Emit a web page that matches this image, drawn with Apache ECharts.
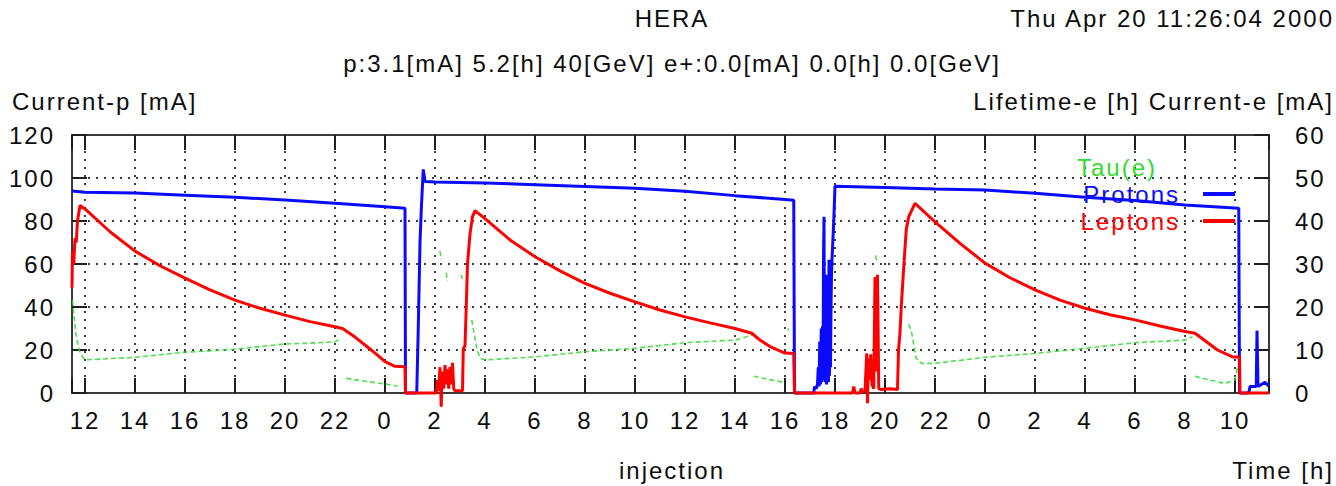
<!DOCTYPE html>
<html>
<head>
<meta charset="utf-8">
<title>HERA</title>
<script src="https://cdn.jsdelivr.net/npm/echarts@6/dist/echarts.min.js"></script>
<style>
  html, body { margin: 0; padding: 0; background: #ffffff; }
  #chart { width: 1336px; height: 486px; }
  /* wide, evenly spaced lettering of the plot's screen font */
  #chart text { letter-spacing: 2px; }
</style>
</head>
<body>
<div id="chart"></div>
<script>
// Time is counted in hours from midnight of the first day (12 = noon day 1, 24 = midnight, 48 = second midnight).
const timeStart = 11.48;
const timeEnd = 59.36;

// Proton beam current [mA]
const protonHours = [
  11.48, 12, 14, 16, 18, 20, 22, 24, 24.8, 24.82,
  25.27, 25.33, 25.4, 25.45, 25.53, 25.6, 26, 28, 30, 32, 34, 36, 38, 40, 40.35, 40.38,
  41.15, 41.18, 41.25, 41.3, 41.33, 41.36, 41.39, 41.42, 41.45, 41.48, 41.5, 41.52, 41.54, 41.56,
  41.58, 41.6, 41.62, 41.64, 41.66, 41.68, 41.7, 41.72, 41.74, 41.76, 41.78, 41.8, 41.82, 41.84,
  41.86, 41.88, 41.95, 42.0, 44, 46, 48, 50, 52, 54, 56, 58.15, 58.18,
  58.55, 58.6, 58.85, 58.88, 58.92, 59.2, 59.36
];
const protonCurrent = [
  94.0, 93.4, 93.0, 92.0, 91.0, 89.8, 88.2, 86.6, 85.9, 0,
  0, 30, 70, 85, 104, 98.4, 98.1, 97.7, 96.9, 96.1, 95.2, 93.8, 91.8, 90.0, 89.6, 0,
  0, 3, 2, 4, 12, 3, 24, 4, 30, 5, 31, 6, 62, 82,
  8, 31, 5, 30, 4, 55, 6, 31, 5, 62, 8, 30, 12, 40,
  55, 62, 80, 96.2, 95.6, 94.9, 94.4, 92.9, 91.0, 89.5, 87.4, 85.9, 0,
  0, 3, 3, 29, 3, 5, 3
];

// Lepton beam current [mA]
const leptonHours = [
  11.48, 11.5, 11.55, 11.6, 11.65, 11.7, 11.8, 12, 13, 14, 15, 16, 17, 18, 19, 20, 21, 22, 22.3,
  22.8, 23.3, 23.7, 24.0, 24.4, 24.8, 24.82,
  26.05, 26.1, 26.15, 26.2, 26.25, 26.28, 26.35, 26.4, 26.45, 26.5, 26.55, 26.6, 26.65, 26.7,
  26.75, 26.8, 27.1, 27.13, 27.15, 27.2, 27.25, 27.3, 27.4, 27.5, 27.6,
  28.07, 29, 30, 31, 32, 33, 34, 35, 36, 37, 38, 38.67, 39, 39.4, 40, 40.35, 40.38,
  42.7, 42.75, 42.8, 43.0, 43.05, 43.1, 43.2, 43.27, 43.3, 43.33, 43.38, 43.43, 43.48, 43.55,
  43.6, 43.65, 43.7, 43.75, 43.85, 44.2, 44.5, 44.54, 44.6, 44.65, 44.75, 44.85, 44.95, 45.2,
  46, 47, 48, 49, 50, 51, 52, 53, 54, 55, 56, 56.4, 57.3, 57.9, 58.18, 58.2, 59.36
];
const leptonCurrent = [
  24.5, 33, 30, 36, 35, 40, 43.6, 42.8, 37.5, 33.0, 29.6, 26.7, 24.0, 21.6, 19.7, 18.1, 16.6, 15.4, 15.0,
  13.0, 10.7, 8.8, 7.3, 6.2, 6.1, 0,
  0, 3, 0.5, 6, -3.2, 5, 1, 6.5, 2, 5.5, 1, 6, 2, 7,
  1, 0.5, 0.5, 10, 10.5, 11, 20, 30, 37, 41, 42.4,
  40.2, 35.6, 31.7, 28.4, 25.5, 23.2, 21.2, 19.3, 17.7, 16.3, 15.0, 13.9, 12.3, 10.8, 9.3, 9.2, 0,
  0, 1.5, 0, 0, 1, 0.3, 0.5, 9.2, -2.4, 8, 3, 9, 2, 1,
  27, 5, 27.5, 1, 0.8, 1, 0.8, 10, 14, 20, 29.4, 38, 41, 44.1,
  39.8, 34.8, 30.2, 26.8, 24.0, 21.6, 19.7, 18.2, 17.0, 15.6, 14.3, 13.9, 10.0, 8.4, 8.4, 0, 0
];

// Lepton beam lifetime [h]; null marks periods without a stored beam
const tauHours = [
  11.5, 11.55, 11.65, 11.8, 12, 13, 14, 15, 16, 17, 18, 19, 20, 21, 22, 22.2, 22.3,
  22.45, 23, 23.5, 24.0, 24.5, 24.6,
  26.2, 26.25, 26.3,
  26.45, 26.5, 26.55,
  27.05, 27.1, 27.15,
  27.47, 27.67, 27.8, 28, 30, 32, 34, 36, 38, 38.7, 38.72,
  38.75, 39.3, 40.0, 40.1,
  40.12, 40.15, 40.2,
  41.5, 41.55, 41.6,
  43.62, 43.68, 43.7,
  44.95, 45.05, 45.25, 45.46, 46, 48, 50, 52, 54, 56, 56.3, 56.35,
  56.4, 57, 57.6, 58.0, 58.1, 58.15
];
const tauLifetime = [
  21.6, 18.6, 13.1, 9.3, 7.7, 8.0, 8.3, 8.9, 9.5, 9.8, 10.2, 10.8, 11.4, 11.6, 11.9, 12.6, null,
  3.4, 2.9, 2.5, 2.1, 1.6, null,
  33, 31, null,
  28, 26, null,
  27.5, 26.5, null,
  17, 10.3, 8.1, 7.7, 8.4, 9.6, 10.4, 11.7, 12.3, 13.5, null,
  3.9, 3.2, 2.4, null,
  15, 14.5, null,
  14.7, 14.2, null,
  32, 30.5, null,
  16, 14.5, 8, 6.9, 6.9, 8.3, 9.2, 10.4, 11.7, 12.3, 13.1, null,
  3.9, 3.0, 2.2, 3.1, 6, null
];

const zip = (xs, ys) => xs.map((x, i) => [x, ys[i]]);

const FONT = '"Liberation Sans", Arial, sans-serif';
const FONT_SIZE = 24;
const TEXT = '#0d0d0d';
const FRAME = '#3a3a3a';
const GREEN = '#2fdc2f';
const BLUE = '#0a0aff';
const RED = '#ff0000';

// Hour labels wrap around midnight
function hourLabel(v) {
  const r = Math.round(v);
  if (Math.abs(v - r) > 1e-6 || r % 2 !== 0) return '';
  return String(r % 24);
}

function label(text, x, y, align) {
  return {
    type: 'text', x: x, y: y, silent: true,
    style: {
      text: text, fill: TEXT, font: FONT_SIZE + 'px ' + FONT,
      textAlign: align, align: align,
      textVerticalAlign: 'middle', verticalAlign: 'middle'
    }
  };
}

const chart = echarts.init(document.getElementById('chart'), null, { renderer: 'svg' });

const tickStyle = { show: true, inside: true, length: 15, lineStyle: { color: '#1e1e1e', width: 2 } };
const frameLine = { show: true, onZero: false, lineStyle: { color: FRAME, width: 2 } };
const dotted = { show: true, lineStyle: { color: '#3c3c3c', width: 2, type: [2, 6] } };
const tickText = { color: TEXT, fontFamily: FONT, fontSize: FONT_SIZE };

chart.setOption({
  animation: false,
  backgroundColor: '#ffffff',
  grid: { left: 72, right: 67, top: 135, bottom: 93, containLabel: false },
  graphic: [
    label('HERA', 672, 18, 'center'),
    label('Thu Apr 20 11:26:04 2000', 1334, 18, 'right'),
    label('p:3.1[mA] 5.2[h] 40[GeV] e+:0.0[mA] 0.0[h] 0.0[GeV]', 672, 63, 'center'),
    label('Current-p [mA]', 12, 101, 'left'),
    label('Lifetime-e [h] Current-e [mA]', 1334, 101, 'right'),
    label('injection', 672, 470, 'center'),
    label('Time [h]', 1334, 470, 'right')
  ],
  legend: {
    orient: 'vertical',
    left: 1089,
    top: 155,
    align: 'right',
    itemGap: 3,
    itemWidth: 32,
    itemHeight: 4,
    icon: 'rect',
    selectedMode: false,
    padding: 0,
    textStyle: { fontFamily: FONT, fontSize: FONT_SIZE, padding: [0, 18, 0, 0] },
    data: [
      { name: 'Tau(e)', itemStyle: { opacity: 0 }, textStyle: { color: GREEN, padding: [0, 41, 0, 0] } },
      { name: 'Protons', textStyle: { color: BLUE } },
      { name: 'Leptons', textStyle: { color: RED } }
    ]
  },
  xAxis: [
    {
      type: 'value', position: 'bottom', min: timeStart, max: timeEnd, splitNumber: 24,
      axisLine: frameLine, axisTick: tickStyle, splitLine: dotted,
      axisLabel: Object.assign({ show: true, interval: 0, margin: 15, formatter: hourLabel }, tickText)
    },
    {
      type: 'value', position: 'top', min: timeStart, max: timeEnd, splitNumber: 24,
      axisLine: frameLine, axisTick: tickStyle, splitLine: { show: false },
      axisLabel: { show: false }
    }
  ],
  yAxis: [
    {
      type: 'value', position: 'left', min: 0, max: 120, interval: 20,
      axisLine: frameLine, axisTick: tickStyle, splitLine: dotted,
      axisLabel: Object.assign({ margin: 17 }, tickText)
    },
    {
      type: 'value', position: 'right', min: 0, max: 60, interval: 10,
      axisLine: frameLine, axisTick: tickStyle, splitLine: { show: false },
      axisLabel: Object.assign({ margin: 26 }, tickText)
    }
  ],
  series: [
    {
      name: 'Tau(e)', type: 'line', xAxisIndex: 0, yAxisIndex: 1,
      data: zip(tauHours, tauLifetime), showSymbol: false, connectNulls: false,
      lineStyle: { color: GREEN, width: 1.6, opacity: 0.85, type: [5, 3] }, itemStyle: { color: GREEN },
      clip: false, z: 2
    },
    {
      name: 'Protons', type: 'line', xAxisIndex: 0, yAxisIndex: 0,
      data: zip(protonHours, protonCurrent), showSymbol: false,
      lineStyle: { color: BLUE, width: 3 }, itemStyle: { color: BLUE },
      clip: false, z: 3
    },
    {
      name: 'Leptons', type: 'line', xAxisIndex: 0, yAxisIndex: 1,
      data: zip(leptonHours, leptonCurrent), showSymbol: false,
      lineStyle: { color: RED, width: 3 }, itemStyle: { color: RED },
      clip: false, z: 4
    }
  ]
});
</script>
</body>
</html>
